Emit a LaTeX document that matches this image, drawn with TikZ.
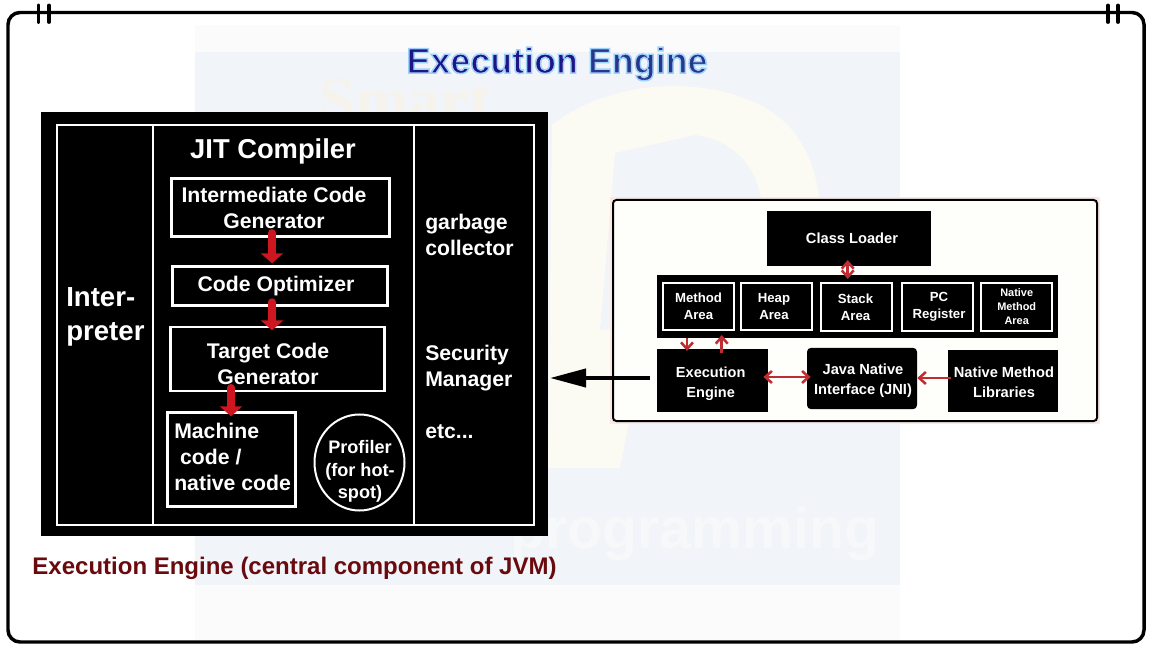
\documentclass[tikz,border=0pt]{standalone}
\usepackage{fontspec}
\setmainfont{Liberation Sans}
\newfontfamily\wmserif{Liberation Serif}
\usetikzlibrary{arrows.meta,shapes.geometric}
\definecolor{wmfaint}{RGB}{251,251,252}
\definecolor{wmblue}{RGB}{241,244,249}
\definecolor{wmgold}{RGB}{252,251,243}
\definecolor{wmtext}{RGB}{247,248,250}
\definecolor{wmsmart}{RGB}{245,243,236}
\definecolor{halo}{RGB}{250,232,228}
\definecolor{panelbg}{RGB}{254,254,251}
\definecolor{redarrow}{RGB}{205,22,32}
\definecolor{thinred}{RGB}{190,45,50}
\definecolor{captionred}{RGB}{105,10,15}
\definecolor{titleblue}{RGB}{30,22,135}
\definecolor{titleblueb}{RGB}{40,55,140}
\newcommand{\glowtext}{\special{pdf:code 2 Tr 1.1 w 0.62 0.82 0.98 RG}}
\tikzset{
  x=0.75pt,y=-0.75pt,
  blk/.style={fill=black,draw=none,inner sep=0pt,anchor=center},
  wbox/.style={draw=white,line width=2.1pt,fill=black,inner sep=0pt,anchor=center},
  lbl/.style={text=white,font=\bfseries\fontsize{15.9}{19.5}\selectfont,align=center,inner sep=0pt,anchor=center},
  lbll/.style={lbl,align=left,anchor=west},
  mem/.style={wbox,line width=1.5pt,minimum width=53.25pt,minimum height=35.6pt},
  memt/.style={lbl,font=\bfseries\fontsize{9.9}{12.6}\selectfont},
  sidet/.style={lbl,font=\bfseries\fontsize{11}{15}\selectfont},
  fat/.style={-{Triangle[length=7.5pt,width=16.5pt]},line width=5.6pt,draw=redarrow,color=redarrow,line cap=round},
  thin/.style={-{Straight Barb[length=5pt,width=9pt]},line width=1.9pt,draw=thinred,color=thinred},
  thinb/.style={{Straight Barb[length=5pt,width=9pt]}-{Straight Barb[length=5pt,width=9pt]},line width=1.9pt,draw=thinred,color=thinred},
}
\begin{document}
\begin{tikzpicture}
\useasboundingbox (0,0) rectangle (1152,648);
\fill[white] (0,0) rectangle (1152,648);
% watermark
\fill[wmfaint] (195,25) rectangle (900,640);
\fill[wmblue] (195,52) rectangle (900,585);
\fill[wmgold,even odd rule] (548,468) -- (552,125) .. controls (610,80) and (700,75) .. (760,105) .. controls (810,130) and (830,190) .. (815,260) .. controls (800,320) and (740,360) .. (640,365) -- (620,468) -- cycle
  (615,153) -- (695,135) .. controls (740,140) and (770,180) .. (760,230) .. controls (750,280) and (700,320) .. (600,330) -- cycle;
\node[text=wmsmart,font=\wmserif\bfseries\fontsize{48}{48}\selectfont,anchor=base,inner sep=0pt] (wmsm) at (405,122) {Smart};
\node[text=wmtext,font=\bfseries\fontsize{43}{43}\selectfont,anchor=base,inner sep=0pt] (wmprog) at (695,548) {programming};
% frame
\draw[black,line width=2.6pt,rounded corners=9pt] (8,12.5) rectangle (1144,642);
\foreach \xx in {38.5,49,1108,1118} \draw[black,line width=2.9pt,line cap=round] (\xx,5.5) -- (\xx,22);
% title
\node[font=\bfseries\fontsize{26.9}{30}\selectfont,inner sep=0pt] (title) at (557,64) {\color{titleblue}\glowtext Execution \color{titleblueb}\glowtext Engine\special{pdf:code 0 Tr}};
% left panel
\fill[black] (41,112) rectangle (548,536);
\draw[white,line width=2.2pt] (57,125) rectangle (534,525);
\draw[white,line width=2.2pt] (153,125) -- (153,525) (414,125) -- (414,525);
\node[lbll,font=\bfseries\fontsize{20.7}{25}\selectfont] (interp) at (66,317) {Inter-\\preter};
\node[lbl,font=\bfseries\fontsize{20.5}{25}\selectfont] (jit) at (273,151) {JIT Compiler};
\node[wbox,minimum width=163.5pt,minimum height=44pt] (icg) at (280.5,207.5) {};
\node[lbl] (icgt) at (274,208) {Intermediate Code\\Generator};
\node[wbox,minimum width=161pt,minimum height=29pt] (opt) at (280,286) {};
\node[lbl] (optt) at (276,286) {Code Optimizer};
\node[wbox,minimum width=161pt,minimum height=48pt] (tcg) at (277.5,359) {};
\node[lbl] (tcgt) at (268,364) {Target Code\\Generator};
\node[wbox,minimum width=96pt,minimum height=70.5pt] (mc) at (231.5,459.5) {};
\node[lbll] (mct) at (174,457) {Machine\\\ code /\\native code};
\node[ellipse,draw=white,line width=1.5pt,fill=black,minimum width=67.5pt,minimum height=72pt,inner sep=0pt] (prof) at (359.5,462.5) {};
\node[lbl,font=\bfseries\fontsize{13.6}{17}\selectfont] (proft) at (360,471.5) {Profiler\\(for hot-\\spot)};
\node[lbll] (gc) at (425,235) {garbage\\collector};
\node[lbll] (sm) at (425,368) {Security\\Manager};
\node[lbll] (etc) at (425,432) {etc...};
\draw[fat,shorten <=-4pt,shorten >=1.5pt] (icg.south -| 272,0) -- (opt.north -| 272,0);
\draw[fat,shorten <=-3.5pt,shorten >=-3.6pt] (opt.south -| 272,0) -- (tcg.north -| 272,0);
\draw[fat,shorten <=-3.5pt,shorten >=-3.9pt] (tcg.south -| 231,0) -- (mc.north -| 231,0);
% caption
\node[text=captionred,font=\bfseries\fontsize{18}{20}\selectfont,inner sep=0pt,anchor=base] (caption) at (294.5,574) {Execution Engine (central component of JVM)};
% right panel
\fill[halo] (610,197) rectangle (1100,424);
\fill[panelbg,rounded corners=2pt] (613,200) rectangle (1097,421);
\draw[black,line width=1.5pt,rounded corners=2.5pt] (613,200) rectangle (1097,421);
% black arrow
\coordinate (armstart) at (650,378);
\coordinate (armtip) at (550,378);
\draw[-{Triangle[length=27pt,width=13.5pt]},black,line width=3pt] (armstart) -- (armtip);
\node[blk,minimum width=123pt,minimum height=41pt] (cl) at (849,238.5) {};
\node[lbl,font=\bfseries\fontsize{11}{14}\selectfont] (clt) at (852,238) {Class Loader};
\node[blk,minimum width=300.5pt,minimum height=47pt] (band) at (857.75,306.5) {};
\node[mem] (ma) at (698,306.5) {};
\node[mem] (ha) at (776,306.5) {};
\node[mem] (sa) at (856.5,307) {};
\node[mem] (pc) at (937.5,307) {};
\node[mem] (nm) at (1016.5,307) {};
\node[memt] (mat) at (698.5,306) {Method\\Area};
\node[memt] (hat) at (774,306.5) {Heap\\Area};
\node[memt] (sat) at (855.5,307) {Stack\\Area};
\node[memt] (pct) at (939,307) {PC\\Register};
\node[memt,font=\bfseries\fontsize{8.2}{10.5}\selectfont] (nmt) at (1016.7,306.5) {Native\\Method\\Area};
\node[blk,minimum width=83pt,minimum height=47pt] (ee) at (712.75,380.5) {};
\node[sidet,font=\bfseries\fontsize{10.9}{15}\selectfont] (eet) at (710.7,383.5) {Execution\\Engine};
\node[blk,minimum width=82.5pt,minimum height=46pt,rounded corners=3pt] (jni) at (862,378.5) {};
\node[sidet] (jnit) at (863,381) {Java Native\\Interface (JNI)};
\node[blk,minimum width=82.5pt,minimum height=46.5pt] (nml) at (1003,381) {};
\node[sidet] (nmlt) at (1004,382) {Native Method\\Libraries};
\draw[thinb,shorten <=-4.5pt,shorten >=-3pt] (cl.south -| 847.7,0) -- (band.north -| 847.7,0);
\draw[thin,shorten >=-1.5pt] (band.south -| 687,0) -- (ee.north -| 687,0);
\draw[thin,shorten <=-2.8pt,shorten >=-2.25pt] (ee.north -| 721.7,0) -- (band.south -| 721.7,0);
\draw[thinb,shorten <=-3.75pt,shorten >=-2.9pt] (ee.east |- 0,377) -- (jni.west |- 0,377);
\draw[thin,shorten <=-2.2pt] (nml.west |- 0,378) -- (jni.east |- 0,378);
\end{tikzpicture}
\end{document}
